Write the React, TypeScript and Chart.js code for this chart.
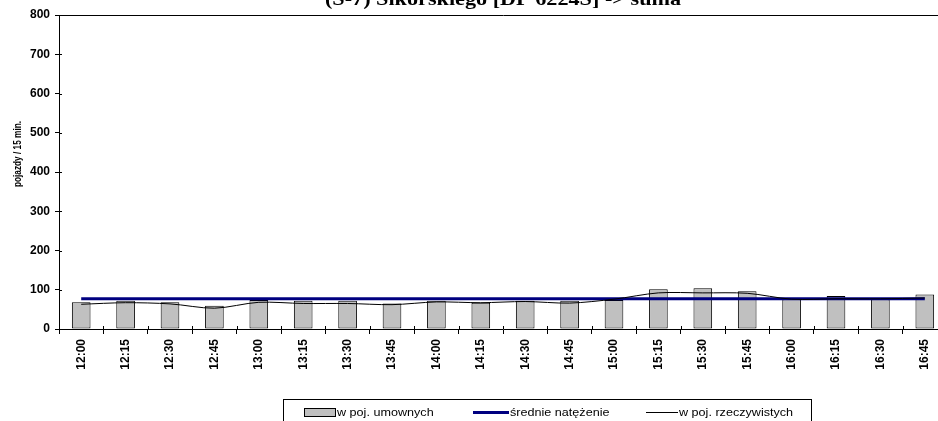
import React, { useEffect, useRef } from "react";
import { Chart, registerables } from "chart.js";

Chart.register(...registerables);

const categories = [
  "12:00", "12:15", "12:30", "12:45", "13:00", "13:15", "13:30", "13:45", "14:00", "14:15",
  "14:30", "14:45", "15:00", "15:15", "15:30", "15:45", "16:00", "16:15", "16:30", "16:45",
];
const umownych = [68, 72, 68, 59, 74, 72, 72, 65, 72, 67, 72, 72, 74, 101, 104, 96, 76, 84, 76, 88];
const rzeczywistych = [63, 67, 64, 53, 68, 65, 65, 62, 69, 67, 70, 66, 76, 92, 92, 91, 76, 77, 77, 79];
const srednie = [77, 77, 77, 77, 77, 77, 77, 77, 77, 77, 77, 77, 77, 77, 77, 77, 77, 77, 77, 77];
const yMin = 0;
const yMax = 800;
const yStep = 100;

const seriesLabels = ["w poj. umownych", "średnie natężenie", "w poj. rzeczywistych"];
const chartTitle = "(S-7) Sikorskiego [DP 6224S] -> suma";
const yAxisTitle = "pojazdy / 15 min.";

const SANS = '"Liberation Sans", Arial, sans-serif';
const SERIF = '"Liberation Serif", "Times New Roman", serif';

function drawText(
  ctx: CanvasRenderingContext2D,
  text: string,
  x: number,
  y: number,
  font: string,
  align: CanvasTextAlign,
  sx: number,
  rot = 0
) {
  ctx.save();
  ctx.font = font;
  ctx.fillStyle = "#000";
  ctx.textAlign = align;
  ctx.textBaseline = "alphabetic";
  ctx.translate(x, y);
  if (rot) ctx.rotate(rot);
  ctx.scale(sx, 1);
  ctx.fillText(text, 0, 0);
  ctx.restore();
}

const decorPlugin = {
  id: "decor",
  afterDraw(chart: any) {
    const ctx: CanvasRenderingContext2D = chart.ctx;
    const area = chart.chartArea;
    const xs = chart.scales.x;
    const ys = chart.scales.y;
    ctx.save();
    // top border of plot area
    ctx.strokeStyle = "#000";
    ctx.lineWidth = 1;
    ctx.beginPath();
    ctx.moveTo(area.left, area.top + 0.5);
    ctx.lineTo(chart.width, area.top + 0.5);
    ctx.stroke();

    // inner halves of the crossing tick marks
    ctx.beginPath();
    for (let v = yMin; v <= yMax; v += yStep) {
      const py = Math.round(ys.getPixelForValue(v)) + 0.5;
      ctx.moveTo(area.left, py);
      ctx.lineTo(area.left + 3, py);
    }
    const step = xs.getPixelForValue(1) - xs.getPixelForValue(0);
    for (let i = 1; i <= categories.length; i++) {
      const px = Math.round(xs.getPixelForValue(i) - step / 2) + 0.5;
      ctx.moveTo(px, area.bottom);
      ctx.lineTo(px, area.bottom - 3);
    }
    ctx.stroke();

    // title (partially cut at the top)
    drawText(ctx, chartTitle, (area.left + area.right) / 2, 5, `bold 18.5px ${SERIF}`, "center", 1.2);

    // y axis title
    ctx.save();
    ctx.translate(20.5, 154);
    ctx.rotate(-Math.PI / 2);
    ctx.font = `bold 11px ${SANS}`;
    ctx.fillStyle = "#000";
    ctx.textAlign = "center";
    ctx.textBaseline = "alphabetic";
    ctx.scale(0.75, 1);
    ctx.fillText(yAxisTitle, 0, 0);
    ctx.restore();

    // legend
    const lx = 283.5, ly = 399.5, lw = 528, lh = 30;
    ctx.strokeStyle = "#000";
    ctx.lineWidth = 1;
    ctx.strokeRect(lx, ly, lw, lh);
    const legendFont = `10.5px ${SANS}`;
    const ty = 416;
    // bar swatch
    ctx.fillStyle = "#C0C0C0";
    ctx.fillRect(304.5, 408.5, 31, 8);
    ctx.strokeStyle = "#000";
    ctx.strokeRect(304.5, 408.5, 31, 8);
    drawText(ctx, seriesLabels[0], 337, ty, legendFont, "left", 1.2);
    // avg line swatch
    ctx.strokeStyle = "#000080";
    ctx.lineWidth = 3;
    ctx.beginPath();
    ctx.moveTo(473, 412.5);
    ctx.lineTo(509, 412.5);
    ctx.stroke();
    drawText(ctx, seriesLabels[1], 510, ty, legendFont, "left", 1.2);
    // real line swatch
    ctx.strokeStyle = "#000";
    ctx.lineWidth = 1;
    ctx.beginPath();
    ctx.moveTo(646, 412.5);
    ctx.lineTo(678, 412.5);
    ctx.stroke();
    drawText(ctx, seriesLabels[2], 679, ty, legendFont, "left", 1.2);
    ctx.restore();
  },
};

export default function App() {
  const canvasRef = useRef<HTMLCanvasElement | null>(null);

  useEffect(() => {
    const canvas = canvasRef.current;
    if (!canvas) return;
    const chart = new Chart(canvas, {
      type: "bar",
      data: {
        labels: categories,
        datasets: [
          {
            type: "line",
            label: seriesLabels[2],
            data: rzeczywistych,
            borderColor: "#000",
            borderWidth: 1,
            pointRadius: 0,
            tension: 0.3,
            fill: false,
          } as any,
          {
            type: "line",
            label: seriesLabels[1],
            data: srednie,
            borderColor: "#000080",
            borderWidth: 3,
            pointRadius: 0,
            tension: 0,
            fill: false,
          } as any,
          {
            type: "bar",
            label: seriesLabels[0],
            data: umownych,
            backgroundColor: "#C0C0C0",
            borderColor: "#000",
            borderWidth: 1,
            borderSkipped: false,
            barPercentage: 0.42,
            categoryPercentage: 1,
          } as any,
        ],
      },
      options: {
        responsive: false,
        animation: false,
        devicePixelRatio: 1,
        layout: { padding: { top: 15, left: 0, right: 1, bottom: 0 } },
        plugins: {
          legend: { display: false },
          tooltip: { enabled: false },
          title: { display: false },
        },
        scales: {
          x: {
            type: "category",
            offset: true,
            grid: {
              offset: true,
              drawOnChartArea: false,
              drawTicks: true,
              tickLength: 5,
              color: "#000",
              lineWidth: 1,
            },
            border: { display: true, color: "#000", width: 1 },
            ticks: {
              autoSkip: false,
              minRotation: 90,
              maxRotation: 90,
              padding: 5,
              color: "#000",
              font: { family: SANS, size: 12, weight: "bold" },
            },
            afterFit: (s: any) => {
              s.height = 92;
            },
          },
          y: {
            min: yMin,
            max: yMax,
            grid: {
              drawOnChartArea: false,
              drawTicks: true,
              tickLength: 4,
              color: "#000",
              lineWidth: 1,
            },
            border: { display: true, color: "#000", width: 1 },
            ticks: {
              stepSize: yStep,
              padding: 5,
              color: "#000",
              font: { family: SANS, size: 12, weight: "bold" },
            },
            afterFit: (s: any) => {
              s.width = 59;
            },
          },
        },
      } as any,
      plugins: [decorPlugin],
    });
    return () => chart.destroy();
  }, []);

  return (
    <div
      style={{
        position: "fixed",
        left: 0,
        top: 0,
        width: 938,
        height: 421,
        overflow: "hidden",
        background: "#fff",
      }}
    >
      <canvas ref={canvasRef} width={948} height={421} style={{ display: "block", width: 948, height: 421 }} />
    </div>
  );
}
